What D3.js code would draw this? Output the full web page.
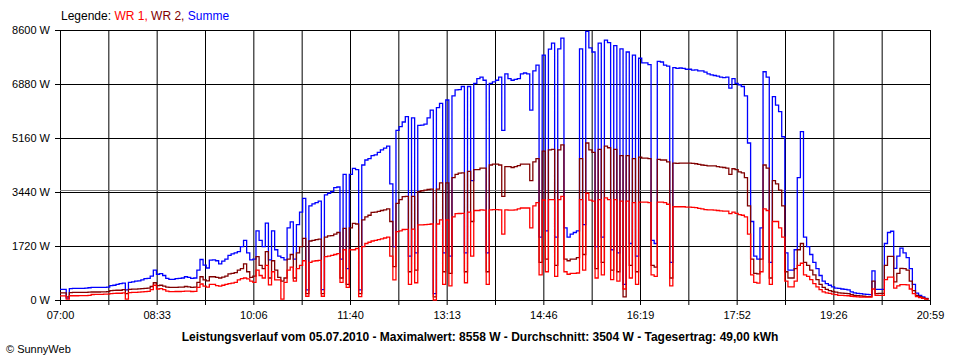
<!DOCTYPE html>
<html><head><meta charset="utf-8">
<script src="https://cdn.jsdelivr.net/npm/d3@7"></script>
<style>body{margin:0;background:#fff;} svg{display:block;font-family:"Liberation Sans",Arial,sans-serif;}</style>
</head><body><svg id="chart" width="960" height="360"></svg>
<script>
// ---- data ----
const sampleStepMinutes = 3;          // one value every 3 minutes from 07:00
const dayMinutes = 839;               // 07:00 .. 20:59
const yTickValues = [0, 1720, 3440, 5160, 6880, 8600];
const xTickLabels = ["07:00","08:33","10:06","11:40","13:13","14:46","16:19","17:52","19:26","20:59"];
const averageW = 3504;
const titleText = "Leistungsverlauf vom 05.07.2010 - Maximalwert: 8558 W - Durchschnitt: 3504 W - Tagesertrag: 49,00 kWh";

const summe = [
340,340,60,360,370,370,370,370,380,390,
400,400,400,400,400,410,460,470,500,520,
540,320,560,580,600,610,640,680,690,760,
950,820,840,780,690,660,660,680,690,700,
740,720,690,700,950,1290,1110,1020,1270,1280,
1250,1150,1240,1300,1420,1470,1500,1540,1700,1900,
1500,1280,1300,2200,1900,1700,2450,1280,2200,1600,
1400,1350,1280,2300,2490,1300,2400,2800,3240,320,
3000,3060,3100,3150,330,3350,3400,3450,3580,3600,
1300,4000,1000,4000,4190,4150,320,4300,4460,4500,
4600,4620,4700,4780,4840,4900,3700,1700,5400,5520,
5670,5840,1400,5800,1500,5560,5570,5600,5800,6050,
200,6130,6265,1500,6370,1400,6500,6690,6700,6800,
1500,6800,3800,6900,7050,7100,7000,1500,6900,6950,
7000,7100,5400,7200,7050,7000,7030,7050,7200,7230,
7200,6050,7300,7480,2000,7800,2200,7990,8180,2000,
8000,8340,2300,2000,2100,2150,2200,8000,2400,8558,
8030,7900,1700,8180,2000,8280,8200,1600,8100,1500,
8000,500,7900,1800,7800,1400,7700,7550,7550,7500,
1900,1800,7600,7580,7480,7450,1200,7400,7380,7390,
7380,7350,7350,7320,7330,7300,7300,7260,7200,7170,
7150,7130,7100,7080,7100,6750,7050,6900,6850,6800,
6500,5000,2500,1400,1300,2300,7270,7100,1200,6475,
6210,6000,5200,1500,950,950,1600,3900,5360,2000,
1700,1450,1200,1000,780,600,520,470,420,380,
370,350,340,320,260,230,210,200,190,180,
170,930,340,340,340,1800,2150,2190,1010,1400,
1650,1500,1350,1000,500,220,150,100,50,20
];

const wr2 = [
230,230,100,235,240,240,240,245,245,250,
255,255,255,260,260,265,300,305,310,310,
330,200,340,345,345,355,365,370,380,430,
550,460,470,440,410,400,400,405,410,410,
430,420,400,410,560,740,640,610,740,740,
720,700,730,760,830,850,870,950,1000,1150,
900,720,760,1380,1100,1000,1540,700,1250,950,
720,600,700,1300,1450,700,1500,1700,1960,200,
1880,1900,1920,1940,200,2000,2040,2050,2100,2150,
700,2280,500,2300,2440,2420,200,2550,2650,2700,
2790,2800,2820,2850,2870,2900,2500,1060,3080,3200,
3290,3300,900,3300,950,3450,3480,3500,3520,3530,
100,3530,3730,900,3730,850,3900,4000,4040,4050,
900,4100,2500,4150,4150,4200,4200,900,4300,4330,
4330,4300,3300,4250,4250,4220,4250,4280,4330,4330,
4330,3800,4400,4500,1200,4740,1300,4780,4800,1100,
4780,4940,1300,1250,1300,1300,1350,4500,1450,5000,
4780,4700,1000,4800,1200,4900,4850,950,4800,900,
4600,100,4600,1100,4500,900,4550,4520,4520,4500,
1100,1050,4480,4460,4460,4400,700,4360,4350,4360,
4360,4360,4360,4350,4340,4320,4300,4290,4270,4270,
4270,4250,4230,4220,4200,4000,4180,4150,4080,4050,
3900,3000,1300,850,830,1300,4300,4200,700,3800,
3700,3500,3000,900,700,700,1000,1600,1800,1200,
1100,950,800,650,500,400,340,300,270,250,
230,220,210,200,170,150,140,130,120,110,
110,600,200,210,210,1100,1390,1390,580,850,
1010,1000,950,600,300,150,110,70,40,10
];

const wr1 = [
130,130,30,135,135,135,140,140,140,150,
175,180,180,180,185,185,205,210,215,215,
230,30,235,240,245,250,260,265,275,330,
470,350,360,330,280,265,265,270,270,275,
285,280,270,275,400,510,440,410,500,500,
460,440,470,500,520,540,560,640,680,700,
670,600,560,950,780,700,1100,480,900,640,
640,30,560,950,1050,600,1000,1100,1250,120,
1200,1240,1250,1260,120,1380,1400,1420,1450,1480,
560,1600,400,1600,1600,1640,110,1700,1800,1840,
1880,1900,1920,1950,1975,2000,1400,640,2175,2200,
2245,2250,500,2260,550,2390,2390,2400,2410,2420,
0,2420,2550,500,2550,450,2650,2750,2755,2760,
550,2800,1400,2850,2850,2870,2860,500,2870,2880,
2880,2870,2100,2870,2860,2860,2870,2900,2930,2930,
2930,2300,3000,3100,800,3185,900,3200,3200,750,
3200,3300,900,820,850,850,860,3200,950,3400,
3180,3150,700,3200,800,3250,3200,650,3200,600,
3150,350,3150,700,3100,500,3120,3120,3120,3100,
800,750,3120,3120,3100,3050,450,2970,2970,2970,
2970,2960,2960,2950,2940,2920,2900,2880,2870,2870,
2860,2850,2840,2830,2830,2750,2800,2760,2720,2700,
2650,2100,800,560,540,900,2900,2850,500,2500,
2500,2300,2000,600,420,420,600,1100,1170,800,
750,650,520,420,330,260,230,210,190,170,
150,145,140,135,120,110,100,95,90,90,
90,350,150,150,150,650,730,730,380,450,
490,490,480,350,200,110,80,50,30,10
];

// ---- layout ----
const plotL = 60, plotR = 930, plotT = 30, plotB = 300;
const svg = d3.select("#chart");
const x = d3.scaleLinear().domain([0, dayMinutes]).range([plotL, plotR]);
const y = d3.scaleLinear().domain([0, 8600]).range([plotB, plotT]);

// legend
const leg = svg.append("text").attr("x", 61).attr("y", 20).attr("font-size", 12);
leg.append("tspan").attr("fill", "#000").text("Legende: ");
leg.append("tspan").attr("fill", "#ff0000").text("WR 1, ");
leg.append("tspan").attr("fill", "#800000").text("WR 2, ");
leg.append("tspan").attr("fill", "#0000ff").text("Summe");

// x grid positions: 18 intervals, label every second
const nInt = (xTickLabels.length - 1) * 2;
const xTickVals = d3.range(nInt + 1).map(k => k * dayMinutes / nInt);

// horizontal grid
const yGrid = svg.append("g").attr("transform", `translate(${plotL},0)`)
  .call(d3.axisRight(y).tickValues(yTickValues).tickSize(plotR - plotL).tickFormat(""));
yGrid.select(".domain").remove();
yGrid.selectAll("line").attr("stroke", "#000");

// vertical grid
const xGrid = svg.append("g").attr("transform", `translate(0,${plotT})`)
  .call(d3.axisBottom(x).tickValues(xTickVals).tickSize(plotB - plotT).tickFormat(""));
xGrid.select(".domain").remove();
xGrid.selectAll("line").attr("stroke", "#000");

// average line
svg.append("line").attr("x1", plotL).attr("x2", plotR)
  .attr("y1", Math.round(y(averageW)) + 0.5).attr("y2", Math.round(y(averageW)) + 0.5)
  .attr("stroke", "#808080");

// y axis labels
const yAx = svg.append("g").attr("transform", `translate(${plotL},0)`)
  .call(d3.axisLeft(y).tickValues(yTickValues).tickSize(5).tickPadding(5).tickFormat(d => d + " W"));
yAx.select(".domain").remove();
yAx.selectAll("line").attr("stroke", "#000");
yAx.selectAll("text").attr("font-size", 11).attr("font-family", "Liberation Sans, Arial, sans-serif").attr("fill", "#000");

// x axis labels
const xAx = svg.append("g").attr("transform", `translate(0,${plotB})`)
  .call(d3.axisBottom(x).tickValues(xTickVals).tickSize(5).tickPadding(6)
    .tickFormat((d, i) => i % 2 === 0 ? xTickLabels[i / 2] : ""));
xAx.select(".domain").remove();
xAx.selectAll("line").attr("stroke", "#000");
xAx.selectAll("text").attr("font-size", 11).attr("font-family", "Liberation Sans, Arial, sans-serif").attr("fill", "#000");

// series
const line = d3.line()
  .x((d, i) => x(i * sampleStepMinutes))
  .y(d => y(d))
  .curve(d3.curveStepAfter);
const series = [
  {values: summe, color: "#0000ff"},
  {values: wr2, color: "#800000"},
  {values: wr1, color: "#ff0000"}
];
svg.append("g").selectAll("path").data(series).join("path")
  .attr("d", s => line(s.values))
  .attr("fill", "none")
  .attr("stroke", s => s.color)
  .attr("stroke-width", 1.3)
  .attr("stroke-linejoin", "miter");

// title
svg.append("text").attr("x", 480).attr("y", 341).attr("text-anchor", "middle")
  .attr("font-size", 12).attr("font-weight", "bold").text(titleText);

// copyright
svg.append("text").attr("x", 6).attr("y", 353).attr("font-size", 11).text("© SunnyWeb");
</script>
</body></html>
